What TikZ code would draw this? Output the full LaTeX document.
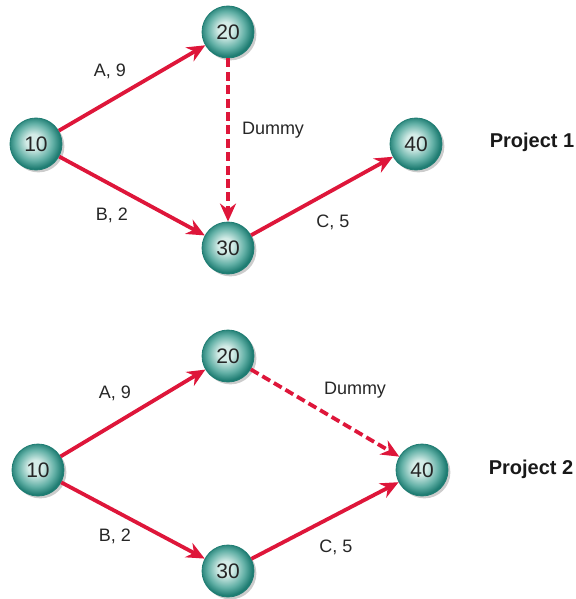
\documentclass[tikz,border=0pt]{standalone}
\usepackage{fontspec}
\setmainfont{Liberation Sans}
\usetikzlibrary{arrows.meta,shadows}

\definecolor{tealDark}{RGB}{30,124,114}
\definecolor{tealMid}{RGB}{98,176,166}
\definecolor{tealLight}{RGB}{212,236,231}
\definecolor{arrowRed}{RGB}{222,22,58}
\pgfdeclareradialshading{tealball}{\pgfpoint{-3bp}{3bp}}{color(0bp)=(tealLight); color(7bp)=(tealLight); color(18bp)=(tealMid); color(25bp)=(tealDark); color(50bp)=(tealDark)}

\begin{document}
\begin{tikzpicture}[
    x=0.5pt, y=-0.5pt,
    event/.style={circle, minimum size=26pt, inner sep=0pt, draw=tealDark, line width=0.4pt, shading=tealball, drop shadow={shadow xshift=1.2pt, shadow yshift=-1.2pt, fill=black, opacity=0.2}, font=\fontsize{10.5}{12}\selectfont, text=black!85},
    act/.style={-{Stealth[length=9pt,width=8pt]}, line width=1.9pt, draw=arrowRed},
    dummy/.style={act, dash pattern=on 4.5pt off 2.2pt},
    actname/.style={font=\fontsize{9}{11}\selectfont, text=black!85},
    projname/.style={font=\bfseries\fontsize{10}{12}\selectfont, text=black!90},
]
\useasboundingbox (0,0) rectangle (576,599);

% Project 1
\node[event] (p1n10) at (36, 144) {10};
\node[event] (p1n20) at (228, 32) {20};
\node[event] (p1n30) at (228, 248) {30};
\node[event] (p1n40) at (416, 144) {40};

\draw[act] (p1n10) -- (p1n20);
\draw[act] (p1n10) -- (p1n30);
\draw[dummy] (p1n20) -- (p1n30);
\draw[act] (p1n30) -- (p1n40);

\node[actname] at (110, 71) {A, 9};
\node[actname] at (112, 215) {B, 2};
\node[actname] at (273, 130) {Dummy};
\node[actname] at (333, 222) {C, 5};
\node[projname] at (532, 142) {Project 1};

% Project 2
\node[event] (p2n10) at (38, 470) {10};
\node[event] (p2n20) at (228, 356) {20};
\node[event] (p2n30) at (228, 571) {30};
\node[event] (p2n40) at (422, 470) {40};

\draw[act] (p2n10) -- (p2n20);
\draw[act] (p2n10) -- (p2n30);
\draw[dummy] (p2n20) -- (p2n40);
\draw[act] (p2n30) -- (p2n40);

\node[actname] at (115, 393) {A, 9};
\node[actname] at (115, 536) {B, 2};
\node[actname] at (355, 390) {Dummy};
\node[actname] at (336, 547) {C, 5};
\node[projname] at (531, 469) {Project 2};

\end{tikzpicture}
\end{document}
